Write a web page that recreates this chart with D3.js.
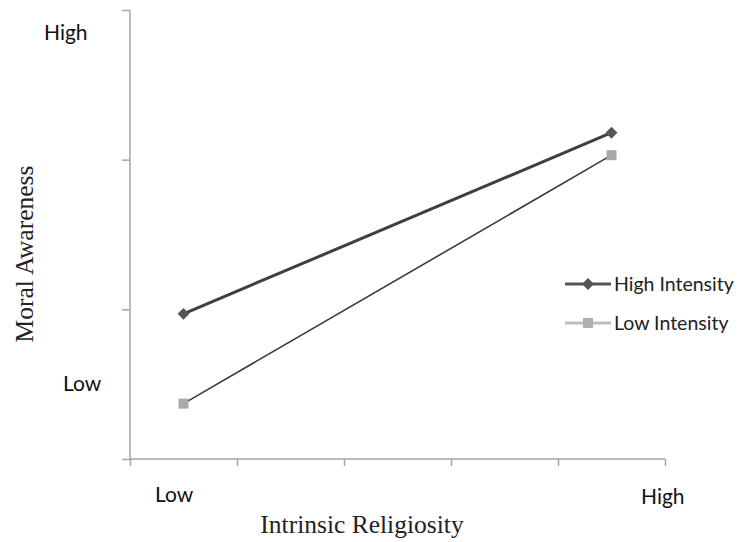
<!DOCTYPE html>
<html>
<head>
<meta charset="utf-8">
<script src="https://cdn.jsdelivr.net/npm/d3@7"></script>
<style>
  body { margin: 0; background: #fff; }
  svg { display: block; }
</style>
</head>
<body>
<svg id="chart" width="740" height="542"></svg>
<script>
// values (y on a 0..3 grid, x on 0..5 category grid)
var xPoints = [0.5, 4.5];
var highIntensity = [0.97, 2.18];
var lowIntensity = [0.37, 2.03];
var seriesNames = ["High Intensity", "Low Intensity"];
var yTicks = [0, 1, 2, 3];
var xTicks = [0, 1, 2, 3, 4, 5];

var svg = d3.select('#chart');

var x = d3.scaleLinear().domain([0, 5]).range([130, 665]);
var y = d3.scaleLinear().domain([0, 3]).range([459, 10]);

var axisColor = "#a6a6a6";

// y axis
var yAxis = svg.append("g")
        .attr("transform", "translate(130,0)")
        .call(d3.axisLeft(y).tickValues(yTicks).tickSize(8).tickFormat(""));
yAxis.select(".domain").attr("stroke", axisColor).attr("stroke-width", 1.5).attr("d", "M0,10V459");
yAxis.selectAll(".tick line").attr("stroke", axisColor).attr("stroke-width", 1.5);

// x axis
var xAxis = svg.append("g")
        .attr("transform", "translate(0,459)")
        .call(d3.axisBottom(x).tickValues(xTicks).tickSize(7).tickFormat(""));
xAxis.select(".domain").attr("stroke", axisColor).attr("stroke-width", 1.5).attr("d", "M130,0H665");
xAxis.selectAll(".tick line").attr("stroke", axisColor).attr("stroke-width", 1.5);

var line = d3.line()
        .x(function (d, i) { return x(xPoints[i]); })
        .y(function (d) { return y(d); });

// low intensity line (thin dark line, light square markers)
svg.append("path")
        .datum(lowIntensity)
        .attr("d", line)
        .attr("fill", "none")
        .attr("stroke", "#3a3a3a")
        .attr("stroke-width", 1.6);

// high intensity line
svg.append("path")
        .datum(highIntensity)
        .attr("d", line)
        .attr("fill", "none")
        .attr("stroke", "#3f3f3f")
        .attr("stroke-width", 3);

var diamond = d3.symbol().type(d3.symbolDiamond2).size(90);
var square = d3.symbol().type(d3.symbolSquare).size(100);

svg.selectAll(".hi-pt")
        .data(highIntensity)
        .enter().append("path")
        .attr("class", "hi-pt")
        .attr("transform", function (d, i) { return "translate(" + x(xPoints[i]) + "," + y(d) + ")"; })
        .attr("d", diamond)
        .attr("fill", "#555555");

svg.selectAll(".lo-pt")
        .data(lowIntensity)
        .enter().append("path")
        .attr("class", "lo-pt")
        .attr("transform", function (d, i) { return "translate(" + x(xPoints[i]) + "," + y(d) + ")"; })
        .attr("d", square)
        .attr("fill", "#a9a9a9");

// legend
var sans = "Lato, 'Open Sans', sans-serif";
var legend = svg.append("g").attr("transform", "translate(565,284)");
seriesNames.forEach(function (name, i) {
    var g = legend.append("g").attr("transform", "translate(0," + (i * 39) + ")");
    g.append("line")
            .attr("x1", 0).attr("x2", 46)
            .attr("stroke", i === 0 ? "#555555" : "#bfbfbf")
            .attr("stroke-width", 3);
    g.append("path")
            .attr("transform", "translate(23,0)")
            .attr("d", i === 0 ? diamond : square)
            .attr("fill", i === 0 ? "#555555" : "#b0b0b0");
    g.append("text")
            .attr("x", 49).attr("y", 7)
            .attr("font-family", sans)
            .attr("font-size", 19.5)
            .attr("fill", "#222")
            .text(name);
});

// level labels
svg.append("text").attr("x", 44).attr("y", 40).attr("font-family", sans).attr("font-size", 21).attr("fill", "#111").text("High");
svg.append("text").attr("x", 63).attr("y", 391).attr("font-family", sans).attr("font-size", 21).attr("fill", "#111").text("Low");
svg.append("text").attr("x", 155).attr("y", 502).attr("font-family", sans).attr("font-size", 21).attr("fill", "#111").text("Low");
svg.append("text").attr("x", 641).attr("y", 504).attr("font-family", sans).attr("font-size", 21).attr("fill", "#111").text("High");

// axis titles
svg.append("text")
        .attr("x", 362).attr("y", 533)
        .attr("text-anchor", "middle")
        .attr("font-family", "'Liberation Serif', 'Times New Roman', serif")
        .attr("font-size", 25.5)
        .attr("fill", "#222")
        .text("Intrinsic Religiosity");

svg.append("text")
        .attr("transform", "translate(33,254) rotate(-90)")
        .attr("text-anchor", "middle")
        .attr("font-family", "'Liberation Serif', 'Times New Roman', serif")
        .attr("font-size", 25.5)
        .attr("fill", "#222")
        .text("Moral Awareness");
</script>
</body>
</html>
